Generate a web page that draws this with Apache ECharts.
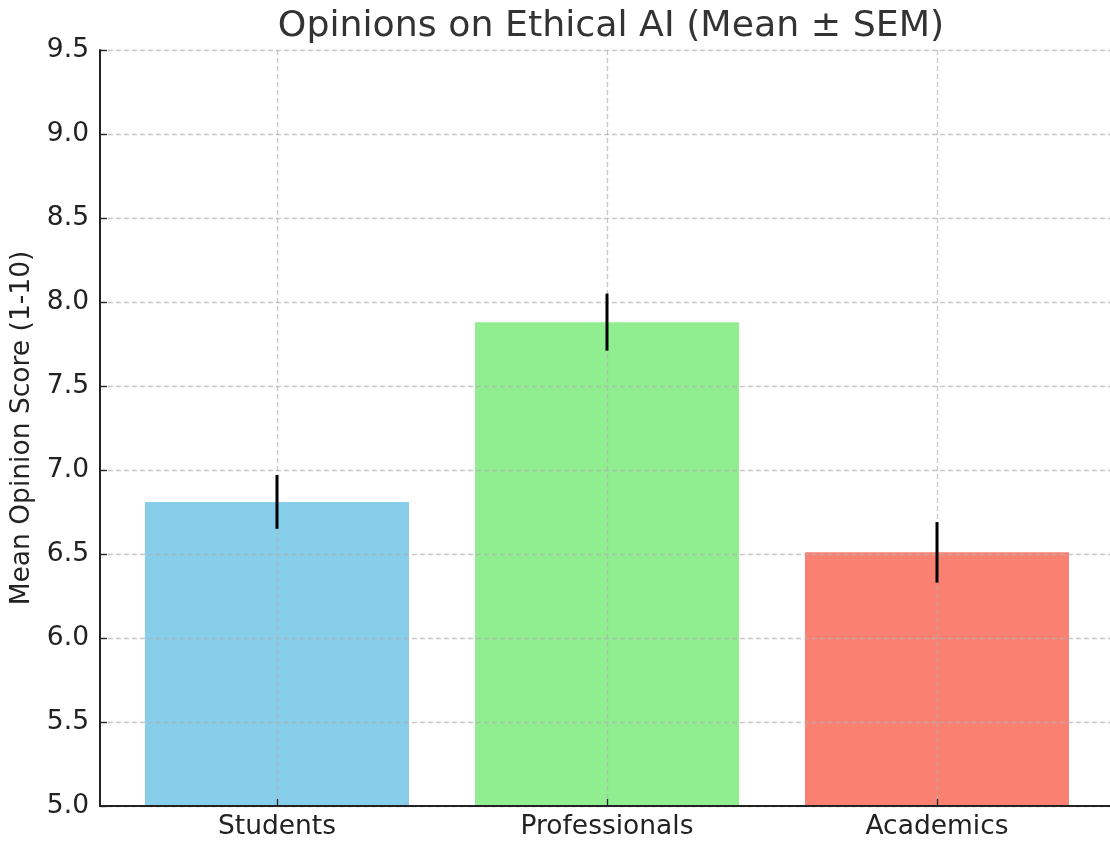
<!DOCTYPE html>
<html>
<head>
<meta charset="utf-8">
<script src="https://cdn.jsdelivr.net/npm/echarts@6/dist/echarts.min.js"></script>
<style>html,body{margin:0;padding:0;background:#fff}#c{width:1110px;height:843px}</style>
</head>
<body>
<div id="c"></div>
<script>
const categories = ['Students', 'Professionals', 'Academics'];
const means = [6.81, 7.88, 6.51];
const sems = [0.16, 0.17, 0.18];
const colors = ['#87CEEB', '#90EE90', '#FA8072'];
const yTicks = { min: 5.0, max: 9.5, interval: 0.5 };

const FONT = '"DejaVu Sans", sans-serif';
const gridColor = 'rgba(176,176,176,0.7)';
const dash = [5, 3];

const chart = echarts.init(document.getElementById('c'), null, { renderer: 'canvas' });
chart.setOption({
  animation: false,
  backgroundColor: '#fff',
  title: {
    text: 'Opinions on Ethical AI (Mean ± SEM)',
    left: 606, top: 4, textAlign: 'center',
    textStyle: { fontFamily: FONT, fontSize: 36.3, fontWeight: 'normal', color: '#333' }
  },
  grid: [
    { left: 112, right: 8, top: 50, bottom: 37 },
    { left: 100, right: 0, top: 50, bottom: 37 }
  ],
  xAxis: [
    {
      type: 'category', gridIndex: 0, data: categories, z: 3,
      axisLine: { show: false },
      axisTick: { show: true, inside: true, length: 7, alignWithLabel: true, lineStyle: { color: '#222', width: 1.3 } },
      axisLabel: { fontFamily: FONT, fontSize: 26.5, color: '#222', margin: 8 },
      splitLine: { show: true, alignWithLabel: true, lineStyle: { color: gridColor, type: dash, width: 1.3 } }
    },
    {
      type: 'value', gridIndex: 1, min: 0, max: 1, z: 3,
      axisLine: { show: true, lineStyle: { color: '#222', width: 2 } },
      axisTick: { show: false }, axisLabel: { show: false }, splitLine: { show: false }
    }
  ],
  yAxis: [
    { type: 'value', gridIndex: 0, min: yTicks.min, max: yTicks.max, interval: yTicks.interval, show: false },
    {
      type: 'value', gridIndex: 1, min: yTicks.min, max: yTicks.max, interval: yTicks.interval, z: 3,
      name: 'Mean Opinion Score (1-10)', nameLocation: 'middle', nameGap: 63,
      nameTextStyle: { fontFamily: FONT, fontSize: 26.5, color: '#222' },
      axisLine: { show: true, lineStyle: { color: '#222', width: 2 } },
      axisTick: { show: true, inside: true, length: 7, lineStyle: { color: '#222', width: 1.3 } },
      axisLabel: { fontFamily: FONT, fontSize: 26.5, color: '#222', margin: 11, formatter: v => v.toFixed(1) },
      splitLine: { show: true, lineStyle: { color: gridColor, type: dash, width: 1.3 } }
    }
  ],
  series: [
    {
      type: 'bar', xAxisIndex: 0, yAxisIndex: 0, barWidth: '80%', z: 2,
      data: means.map((m, i) => ({ value: m, itemStyle: { color: colors[i] } }))
    },
    {
      type: 'custom', xAxisIndex: 0, yAxisIndex: 0, z: 5,
      data: means.map((m, i) => [i, m - sems[i], m + sems[i]]),
      renderItem: (params, api) => {
        const lo = api.coord([api.value(0), api.value(1)]);
        const hi = api.coord([api.value(0), api.value(2)]);
        return { type: 'line', shape: { x1: lo[0], y1: lo[1], x2: hi[0], y2: hi[1] }, style: { stroke: '#000', lineWidth: 3 } };
      }
    }
  ]
});
</script>
</body>
</html>
